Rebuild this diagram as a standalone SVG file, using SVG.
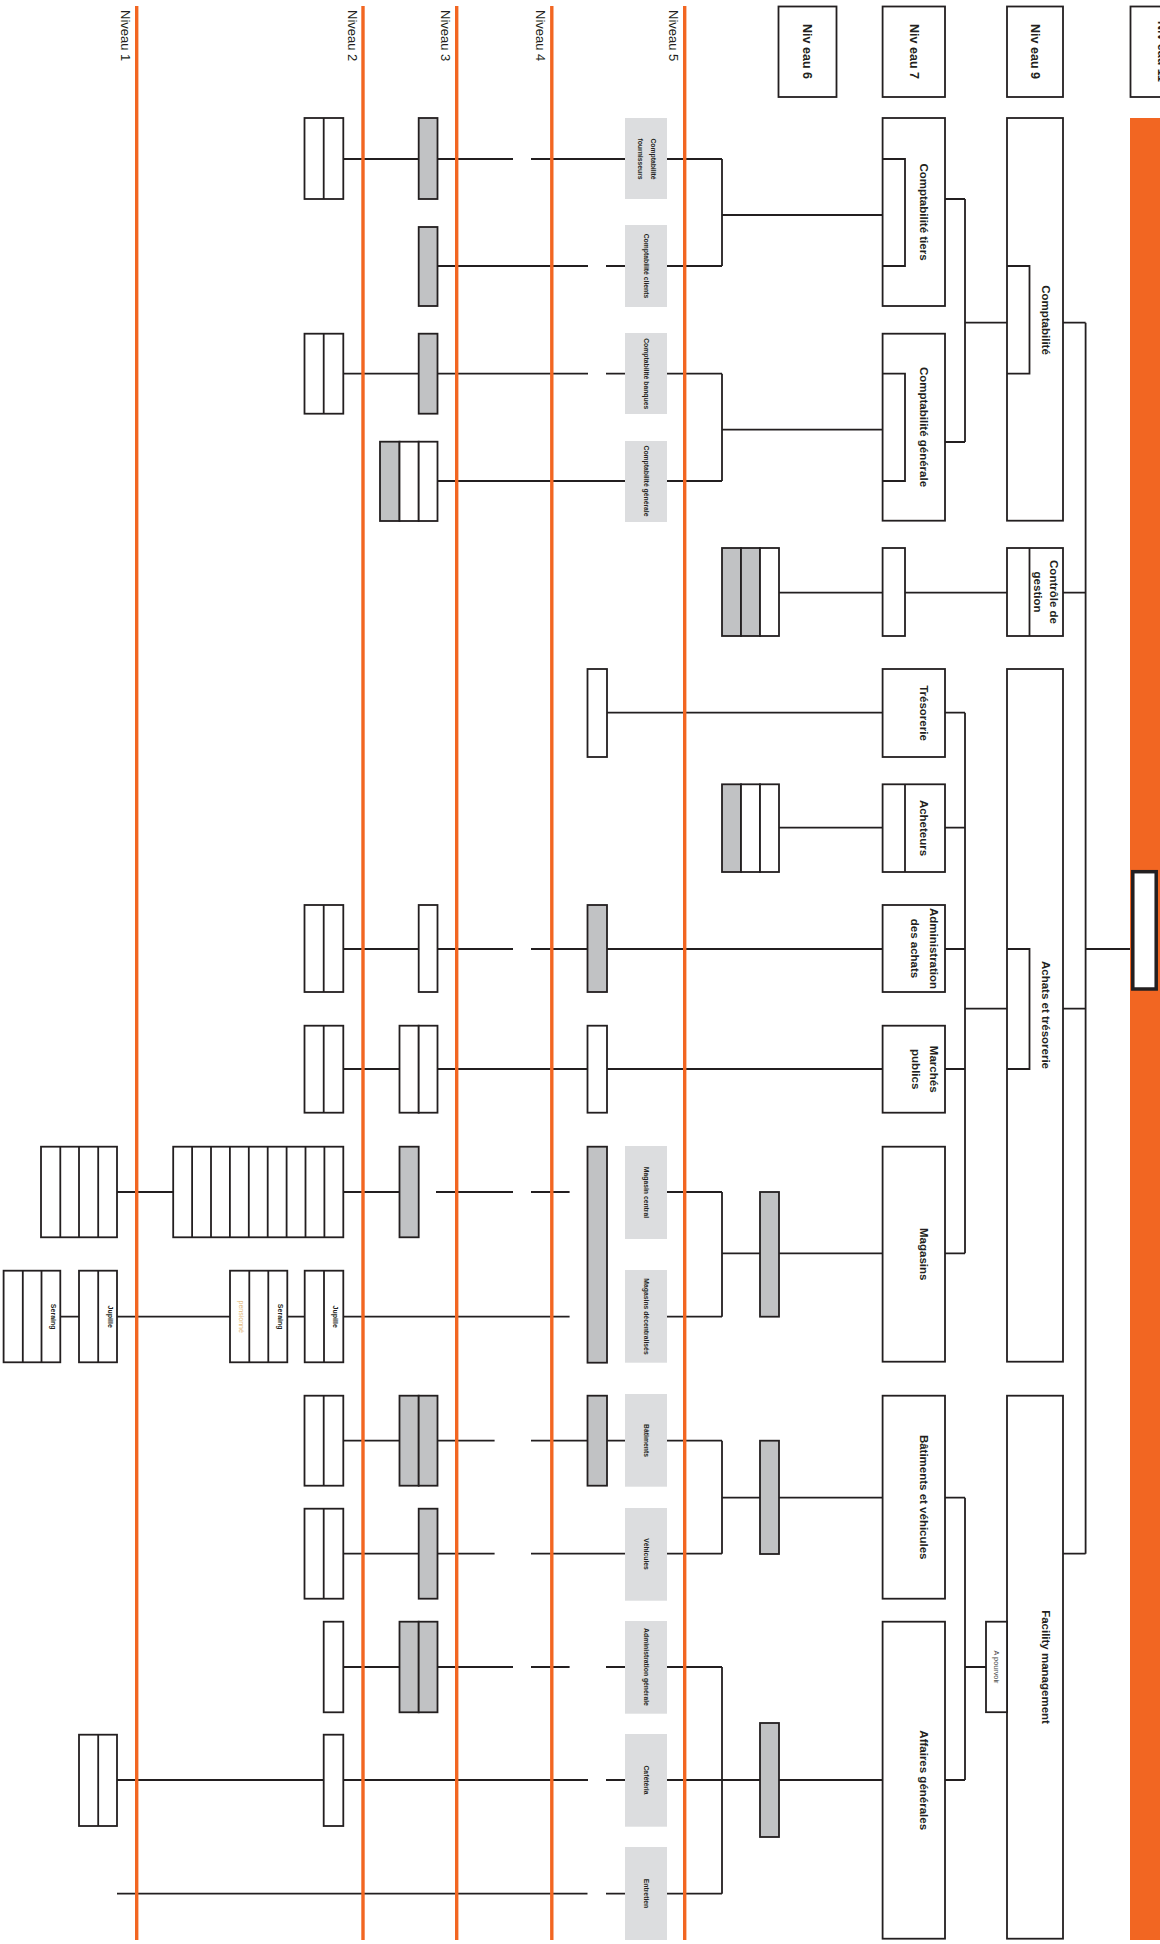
<svg xmlns="http://www.w3.org/2000/svg" width="1160" height="1944" viewBox="0 0 1160 1944">
<style>
.b{fill:#fff;stroke:#231f20;stroke-width:1.8}
.g{fill:#c1c2c4;stroke:#231f20;stroke-width:1.8}
.d{stroke:#231f20;stroke-width:1.8;fill:none}
.lab{fill:#dcdddf}
.c{stroke:#231f20;stroke-width:1.8;fill:none}
.lvl{stroke:#f26622;stroke-width:3.4}
text{font-family:"Liberation Sans",Arial,sans-serif;fill:#231f20;text-anchor:middle}
.lv{font-size:13px;text-anchor:start}
.hd{font-size:12.5px;font-weight:bold}
.t7{font-size:11.5px;font-weight:bold}
.t9{font-size:11.5px;font-weight:bold}
.sm{font-size:6.8px;font-weight:bold}
.tn{font-size:7px;font-weight:bold}
.pe{font-size:7px;fill:#e3b877}
.ap{font-size:7.3px;fill:#444}
</style>
<rect width="1160" height="1944" fill="#fff"/>

<g id="connectors">
<path class="c" d="M343.3,159H418.7M437.5,159H513M531,159H625M667,159H722M437.5,266H588M606,266H625M667,266H722M722,159V266M722,215H882.6"/>
<path class="c" d="M343.3,373.7H418.7M437.5,373.7H588M606,373.7H625M667,373.7H722M437.5,481H625M667,481H722M722,373.7V481M722,429.7H882.6"/>
<path class="c" d="M779,592.7H882.6M905,592.7H1007M1063,592.7H1085.6"/>
<path class="c" d="M607,712.7H882.6M945,712.7H965M779,827.7H882.6M945,827.7H965"/>
<path class="c" d="M343.3,949H418.7M437.5,949H513M531,949H587.5M607,949H882.6M945,949H965"/>
<path class="c" d="M343.3,1069H399.5M437.5,1069H587.5M607,1069H882.6M945,1069H965"/>
<path class="c" d="M117,1192H173.2M343.3,1192H399.5M436,1192H513M531,1192H569.6M667,1192H722"/>
<path class="c" d="M60.3,1316.7H79M117,1316.7H230M287.3,1316.7H304.7M343.3,1316.7H569.6M667,1316.7H722"/>
<path class="c" d="M722,1192V1316.7M722,1253.3H760M779,1253.3H882.6M945,1253.3H965"/>
<path class="c" d="M343.3,1440.7H399.5M437.5,1440.7H494.6M531,1440.7H587.5M607,1440.7H625M667,1440.7H722"/>
<path class="c" d="M343.3,1553.7H418.7M437.5,1553.7H494.6M531,1553.7H625M667,1553.7H722"/>
<path class="c" d="M722,1440.7V1553.7M722,1497.7H760M779,1497.7H882.6M945,1497.7H965"/>
<path class="c" d="M343.3,1667H399.5M437.5,1667H513M531,1667H569.6M606,1667H625M667,1667H722"/>
<path class="c" d="M117,1780H323.7M343.3,1780H588M606,1780H625M667,1780H722"/>
<path class="c" d="M117,1893.7H587.5M606,1893.7H625M667,1893.7H722"/>
<path class="c" d="M722,1667V1893.7M722,1780H760M779,1780H882.6M945,1780H965"/>
<path class="c" d="M945,199H965M945,442H965M965,199V442M965,322.7H1007M965,712.7V1253.3M965,1008.7H1007M965,1497.7V1780M965,1667H986"/>
<path class="c" d="M1063,322.7H1085.6M1085.6,322.7V1553.7M1063,1008.7H1085.6M1063,1553.7H1085.6M1085.6,949H1131"/>
</g>

<g id="levels">
<line class="lvl" x1="136.7" y1="6" x2="136.7" y2="1940"/>
<line class="lvl" x1="363" y1="6" x2="363" y2="1940"/>
<line class="lvl" x1="456.7" y1="6" x2="456.7" y2="1940"/>
<line class="lvl" x1="551.8" y1="6" x2="551.8" y2="1940"/>
<line class="lvl" x1="684.7" y1="6" x2="684.7" y2="1940"/>
<text class="lv" transform="translate(120.5,10) rotate(90)">Niveau 1</text>
<text class="lv" transform="translate(347.5,10) rotate(90)">Niveau 2</text>
<text class="lv" transform="translate(441,10) rotate(90)">Niveau 3</text>
<text class="lv" transform="translate(536,10) rotate(90)">Niveau 4</text>
<text class="lv" transform="translate(668.5,10) rotate(90)">Niveau 5</text>
</g>

<g id="band">
<rect x="1130" y="118" width="40" height="1822" fill="#f26622"/>
<rect x="1132.8" y="871.7" width="23.4" height="117.3" fill="#fff" stroke="#231f20" stroke-width="3.5"/>
</g>

<g id="headers">
<g id="h6"><rect class="b" x="778.5" y="6.5" width="58" height="90.5"/><text class="hd" transform="translate(803,51.5) rotate(90)">Niv eau 6</text></g>
<g id="h7"><rect class="b" x="882.6" y="6.5" width="62.4" height="90.5"/><text class="hd" transform="translate(909.5,51.5) rotate(90)">Niv eau 7</text></g>
<g id="h9"><rect class="b" x="1007" y="6.5" width="56" height="90.5"/><text class="hd" transform="translate(1030.5,51.5) rotate(90)">Niv eau 9</text></g>
<g id="h11"><rect class="b" x="1130.5" y="6.5" width="64" height="90.5"/><text class="hd" transform="translate(1158,51.5) rotate(90)">Niv eau 11</text></g>
</g>

<g id="niv9">
<g id="n9-compta"><rect class="b" x="1007" y="118" width="56" height="402.7"/><path class="d" d="M1007,266H1029.5V373.7H1007"/><text class="t9" transform="translate(1042,320) rotate(90)">Comptabilité</text></g>
<g id="n9-cdg"><rect class="b" x="1007" y="548" width="56" height="88"/><path class="d" d="M1029.5,548V636"/><text class="t7" transform="translate(1050,592) rotate(90)">Contrôle de</text><text class="t7" transform="translate(1033.5,592) rotate(90)">gestion</text></g>
<g id="n9-achats"><rect class="b" x="1007" y="669" width="56" height="692.7"/><path class="d" d="M1007,949H1029.5V1069H1007"/><text class="t9" transform="translate(1042,1015) rotate(90)">Achats et trésorerie</text></g>
<g id="n9-fm"><rect class="b" x="1007" y="1395.7" width="56" height="543"/><text class="t9" transform="translate(1042,1667) rotate(90)">Facility management</text></g>
<g id="n9-apourvoir"><rect class="b" x="986" y="1621.7" width="21" height="90.5"/><text class="ap" transform="translate(994,1667) rotate(90)">A pourvoir</text></g>
</g>

<g id="niv7">
<g id="n7-tiers"><rect class="b" x="882.6" y="118" width="62.4" height="188"/><path class="d" d="M882.6,159H905V266H882.6"/><text class="t7" transform="translate(920,212) rotate(90)">Comptabilité tiers</text></g>
<g id="n7-gen"><rect class="b" x="882.6" y="333.7" width="62.4" height="187"/><path class="d" d="M882.6,373.7H905V481H882.6"/><text class="t7" transform="translate(920,427) rotate(90)">Comptabilité générale</text></g>
<g id="n7-cdg"><rect class="b" x="882.6" y="548" width="22.4" height="88"/></g>
<g id="n7-treso"><rect class="b" x="882.6" y="669" width="62.4" height="88"/><text class="t7" transform="translate(920,713) rotate(90)">Trésorerie</text></g>
<g id="n7-acheteurs"><rect class="b" x="882.6" y="784.3" width="62.4" height="87.7"/><path class="d" d="M905,784.3V872"/><text class="t7" transform="translate(920,828) rotate(90)">Acheteurs</text></g>
<g id="n7-admin"><rect class="b" x="882.6" y="905" width="62.4" height="87"/><text class="t7" transform="translate(929.5,948.5) rotate(90)">Administration</text><text class="t7" transform="translate(911,948.5) rotate(90)">des achats</text></g>
<g id="n7-marches"><rect class="b" x="882.6" y="1025.7" width="62.4" height="87"/><text class="t7" transform="translate(929.5,1069.2) rotate(90)">Marchés</text><text class="t7" transform="translate(912,1069.2) rotate(90)">publics</text></g>
<g id="n7-magasins"><rect class="b" x="882.6" y="1146.7" width="62.4" height="215"/><text class="t7" transform="translate(920,1254.2) rotate(90)">Magasins</text></g>
<g id="n7-batveh"><rect class="b" x="882.6" y="1395.7" width="62.4" height="203"/><text class="t7" transform="translate(920,1497.2) rotate(90)">Bâtiments et véhicules</text></g>
<g id="n7-affaires"><rect class="b" x="882.6" y="1621.7" width="62.4" height="317"/><text class="t7" transform="translate(920,1780.2) rotate(90)">Affaires générales</text></g>
</g>

<g id="niv6">
<g id="n6-cdg"><rect class="g" x="722" y="548" width="19" height="88"/><rect class="g" x="741" y="548" width="19" height="88"/><rect class="b" x="760" y="548" width="19" height="88"/></g>
<g id="n6-acheteurs"><rect class="g" x="722" y="784.3" width="19" height="87.7"/><rect class="b" x="741" y="784.3" width="19" height="87.7"/><rect class="b" x="760" y="784.3" width="19" height="87.7"/></g>
<g id="n6-magasins"><rect class="g" x="760" y="1192" width="19" height="124.7"/></g>
<g id="n6-bat"><rect class="g" x="760" y="1440.7" width="19" height="113.3"/></g>
<g id="n6-affaires"><rect class="g" x="760" y="1723" width="19" height="114"/></g>
</g>

<g id="niv5">
<g id="n5-treso"><rect class="b" x="587.5" y="669" width="19.5" height="88"/></g>
<g id="n5-admin"><rect class="g" x="587.5" y="905" width="19.5" height="87"/></g>
<g id="n5-marches"><rect class="b" x="587.5" y="1025.7" width="19.5" height="87"/></g>
<g id="n5-magasins"><rect class="g" x="587.5" y="1146.7" width="19.5" height="216"/></g>
<g id="n5-bat"><rect class="g" x="587.5" y="1395.7" width="19.5" height="90"/></g>
<g id="l-fourn"><rect class="lab" x="625" y="118" width="42" height="81"/><text class="sm" transform="translate(651,159) rotate(90)">Comptabilité</text><text class="sm" transform="translate(637.5,159) rotate(90)">fournisseurs</text></g>
<g id="l-clients"><rect class="lab" x="625" y="225" width="42" height="82"/><text class="sm" transform="translate(643.5,266) rotate(90)">Comptabilité clients</text></g>
<g id="l-banques"><rect class="lab" x="625" y="333" width="42" height="81"/><text class="sm" transform="translate(643.5,373.7) rotate(90)">Comptabilité banques</text></g>
<g id="l-generale"><rect class="lab" x="625" y="441" width="42" height="81"/><text class="sm" transform="translate(643.5,481) rotate(90)">Comptabilité générale</text></g>
<g id="l-magc"><rect class="lab" x="625" y="1146" width="42" height="93"/><text class="sm" transform="translate(643.5,1192.5) rotate(90)">Magasin central</text></g>
<g id="l-magd"><rect class="lab" x="625" y="1270" width="42" height="92.7"/><text class="sm" transform="translate(643.5,1316.5) rotate(90)">Magasins décentralisés</text></g>
<g id="l-bat"><rect class="lab" x="625" y="1394" width="42" height="92.7"/><text class="sm" transform="translate(643.5,1440.5) rotate(90)">Bâtiments</text></g>
<g id="l-veh"><rect class="lab" x="625" y="1508" width="42" height="92.7"/><text class="sm" transform="translate(643.5,1554) rotate(90)">Véhicules</text></g>
<g id="l-admg"><rect class="lab" x="625" y="1621" width="42" height="92.7"/><text class="sm" transform="translate(643.5,1667) rotate(90)">Administration générale</text></g>
<g id="l-caf"><rect class="lab" x="625" y="1734" width="42" height="92.7"/><text class="sm" transform="translate(643.5,1780) rotate(90)">Cafétéria</text></g>
<g id="l-ent"><rect class="lab" x="625" y="1847" width="42" height="93"/><text class="sm" transform="translate(643.5,1893.5) rotate(90)">Entretien</text></g>
</g>

<g id="niv3">
<g id="n3-r1"><rect class="g" x="418.7" y="118" width="18.8" height="81"/></g>
<g id="n3-r2"><rect class="g" x="418.7" y="227" width="18.8" height="79"/></g>
<g id="n3-r3"><rect class="g" x="418.7" y="333.7" width="18.8" height="80"/></g>
<g id="n3-r4"><rect class="g" x="380" y="441.7" width="19.5" height="79.3"/><rect class="b" x="399.5" y="441.7" width="19.2" height="79.3"/><rect class="b" x="418.7" y="441.7" width="18.8" height="79.3"/></g>
<g id="n3-admin"><rect class="b" x="418.7" y="905" width="18.8" height="87"/></g>
<g id="n3-marches"><rect class="b" x="399.5" y="1025.7" width="19.2" height="87"/><rect class="b" x="418.7" y="1025.7" width="18.8" height="87"/></g>
<g id="n3-magc"><rect class="g" x="399.5" y="1146.7" width="19.2" height="90.6"/></g>
<g id="n3-bat"><rect class="g" x="399.5" y="1395.7" width="19.2" height="90"/><rect class="g" x="418.7" y="1395.7" width="18.8" height="90"/></g>
<g id="n3-veh"><rect class="g" x="418.7" y="1508.7" width="18.8" height="90"/></g>
<g id="n3-admg"><rect class="g" x="399.5" y="1621.7" width="19.2" height="90.6"/><rect class="g" x="418.7" y="1621.7" width="18.8" height="90.6"/></g>
</g>

<g id="niv2">
<g id="n2-r1"><rect class="b" x="304.5" y="118" width="38.8" height="81"/><path class="d" d="M323.7,118V199"/></g>
<g id="n2-r3"><rect class="b" x="304.5" y="333.7" width="38.8" height="80"/><path class="d" d="M323.7,333.7V413.7"/></g>
<g id="n2-admin"><rect class="b" x="304.5" y="905" width="38.8" height="87"/><path class="d" d="M323.7,905V992"/></g>
<g id="n2-marches"><rect class="b" x="304.5" y="1025.7" width="38.8" height="87"/><path class="d" d="M323.7,1025.7V1112.7"/></g>
<g id="n2-magc"><rect class="b" x="173.2" y="1146.7" width="170.1" height="90.6"/><path class="d" d="M192.1,1146.7V1237.3M211,1146.7V1237.3M229.9,1146.7V1237.3M248.8,1146.7V1237.3M267.7,1146.7V1237.3M286.6,1146.7V1237.3M305.5,1146.7V1237.3M324.4,1146.7V1237.3"/></g>
<g id="n2-magd-a"><rect class="b" x="230" y="1270.7" width="57.3" height="91.6"/><path class="d" d="M249.3,1270.7V1362.3M268.3,1270.7V1362.3"/><text class="pe" transform="translate(238.5,1316.7) rotate(90)">pensionné</text><text class="tn" transform="translate(277.5,1316.7) rotate(90)">Seraing</text></g>
<g id="n2-magd-b"><rect class="b" x="304.7" y="1270.7" width="38.6" height="91.6"/><path class="d" d="M324,1270.7V1362.3"/><text class="tn" transform="translate(333,1316.7) rotate(90)">Jupille</text></g>
<g id="n2-bat"><rect class="b" x="304.5" y="1395.7" width="38.8" height="90"/><path class="d" d="M323.7,1395.7V1485.7"/></g>
<g id="n2-veh"><rect class="b" x="304.5" y="1508.7" width="38.8" height="90"/><path class="d" d="M323.7,1508.7V1598.7"/></g>
<g id="n2-admg"><rect class="b" x="323.7" y="1621.7" width="19.6" height="90.6"/></g>
<g id="n2-caf"><rect class="b" x="323.7" y="1734.7" width="19.6" height="91.3"/></g>
</g>

<g id="niv1">
<g id="n1-magc"><rect class="b" x="41" y="1146.7" width="76" height="90.6"/><path class="d" d="M60.3,1146.7V1237.3M79,1146.7V1237.3M98.2,1146.7V1237.3"/></g>
<g id="n1-magd-a"><rect class="b" x="3.6" y="1270.7" width="56.7" height="91.6"/><path class="d" d="M22.8,1270.7V1362.3M41.5,1270.7V1362.3"/><text class="tn" transform="translate(50.5,1316.7) rotate(90)">Seraing</text></g>
<g id="n1-magd-b"><rect class="b" x="79" y="1270.7" width="38" height="91.6"/><path class="d" d="M98.2,1270.7V1362.3"/><text class="tn" transform="translate(107.5,1316.7) rotate(90)">Jupille</text></g>
<g id="n1-caf"><rect class="b" x="79" y="1734.7" width="38" height="91.3"/><path class="d" d="M98.2,1734.7V1826"/></g>
</g>
</svg>
